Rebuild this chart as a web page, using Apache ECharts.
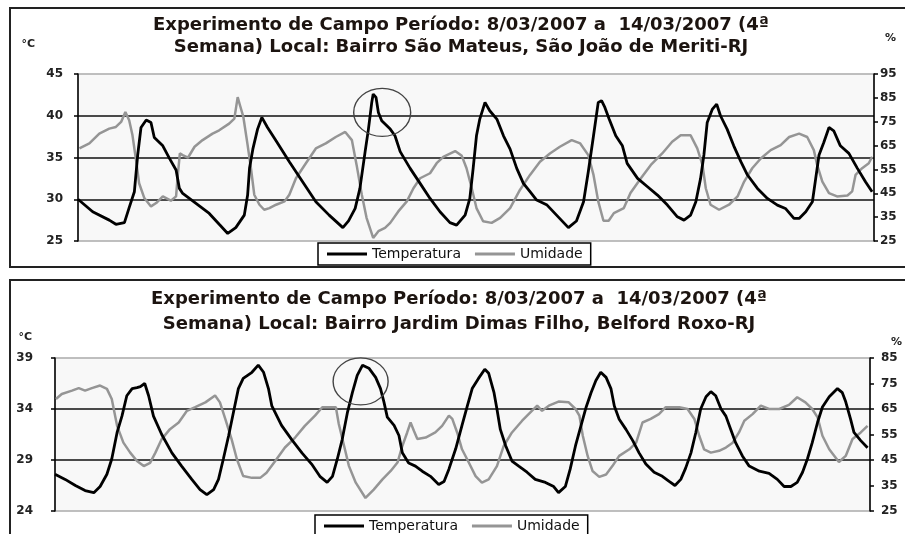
<!DOCTYPE html>
<html>
<head>
<meta charset="utf-8">
<script src="https://cdn.jsdelivr.net/npm/echarts@6.0.0/dist/echarts.min.js"></script>
<style>
  html, body { margin: 0; padding: 0; background: #fff; }
  #chart { width: 905px; height: 534px; }
</style>
</head>
<body>
<div id="chart"></div>
<script>
// eixo X: horas desde 8/03/2007 00h (0 - 168)
// São Mateus, São João de Meriti
const topTemp = [
  [0, 30], [3.1, 28.5], [6.6, 27.5], [8.0, 27.0], [9.8, 27.2], [10.8, 29.0], [11.9, 30.9], [12.6, 35.3],
  [13.3, 38.6], [14.4, 39.5], [15.4, 39.2], [16.1, 37.4], [17.9, 36.4], [19.3, 34.9], [20.7, 33.5],
  [21.4, 31.3], [22.1, 30.7], [24.9, 29.5], [27.7, 28.3], [29.8, 27.0], [31.6, 25.9], [33.3, 26.6],
  [35.1, 28.1], [35.8, 30.5], [36.2, 33.7], [36.9, 36.0], [37.9, 38.4], [38.8, 39.8], [40.0, 38.6],
  [41.8, 37.0], [44.6, 34.5], [47.4, 32.1], [50.2, 29.7], [53.0, 28.1], [55.9, 26.6], [57.1, 27.4],
  [58.5, 28.9], [59.5, 31.3], [60.6, 35.7], [61.3, 38.4], [62.0, 41.6], [62.3, 42.6], [62.9, 42.2],
  [63.4, 40.4], [64.1, 39.4], [65.9, 38.4], [66.9, 37.6], [68.0, 35.7], [70.1, 33.7], [72.2, 31.9],
  [74.3, 30.1], [76.4, 28.5], [78.5, 27.2], [79.9, 26.9], [81.7, 28.1], [82.7, 30.1], [83.4, 33.7],
  [84.1, 37.6], [84.8, 39.6], [85.9, 41.6], [86.9, 40.6], [88.4, 39.6], [89.8, 37.6], [91.2, 36.0],
  [92.6, 33.7], [94.0, 31.9], [95.4, 30.9], [96.8, 29.9], [99.0, 29.3], [101.0, 28.1], [103.5, 26.6],
  [105.2, 27.4], [106.7, 29.7], [107.7, 33.3], [108.8, 37.6], [109.8, 41.6], [110.5, 41.8], [111.2, 41.0],
  [112.1, 39.6], [113.5, 37.6], [114.9, 36.4], [115.9, 34.3], [118.1, 32.5], [120.2, 31.5], [122.3, 30.5],
  [124.4, 29.3], [126.5, 27.9], [127.9, 27.5], [129.3, 28.1], [130.4, 29.7], [131.4, 32.5], [132.1, 35.3],
  [132.8, 39.2], [133.9, 40.8], [134.8, 41.4], [135.6, 40.0], [137.0, 38.4], [138.4, 36.4], [139.9, 34.5],
  [141.3, 32.9], [143.4, 31.3], [145.5, 30.1], [147.6, 29.3], [149.3, 28.9], [151.1, 27.7], [152.2, 27.7],
  [153.6, 28.5], [155.0, 29.7], [155.7, 32.5], [156.4, 35.3], [157.4, 36.8], [158.5, 38.6], [159.5, 38.2],
  [160.9, 36.4], [162.7, 35.5], [164.5, 33.7], [166.2, 32.1], [167.6, 30.9]
]
const topHum = [
  [0.3, 63.8], [2.4, 65.9], [4.5, 70.0], [6.6, 72.1], [8.0, 72.8], [9.1, 74.9], [10.0, 79.1], [10.8, 75.6],
  [11.5, 69.3], [12.2, 59.6], [12.9, 49.2], [14.0, 43.0], [15.4, 39.5], [16.5, 40.9], [17.9, 43.7],
  [19.6, 41.9], [20.7, 43.7], [21.0, 51.3], [21.5, 61.7], [22.1, 61.0], [23.2, 59.9], [24.6, 64.5],
  [26.3, 67.3], [28.4, 70.0], [29.8, 71.4], [31.9, 74.2], [33.0, 76.3], [33.7, 85.3], [34.2, 81.8],
  [34.9, 77.0], [35.8, 65.2], [36.5, 55.5], [37.2, 44.4], [38.3, 40.2], [39.3, 38.1], [40.4, 38.8],
  [41.8, 40.2], [43.6, 41.6], [44.6, 44.4], [46.0, 51.3], [48.1, 57.6], [50.2, 63.8], [52.3, 65.9],
  [54.4, 68.6], [56.4, 70.7], [57.8, 67.3], [58.8, 56.9], [59.9, 44.4], [60.9, 34.7], [62.3, 26.3],
  [63.4, 29.1], [64.8, 30.5], [65.9, 32.6], [67.6, 37.4], [69.4, 41.6], [70.8, 47.1], [72.2, 51.3],
  [74.3, 53.4], [75.7, 57.6], [77.1, 60.3], [79.6, 62.7], [81.0, 60.7], [82.0, 55.5], [83.1, 47.1],
  [84.1, 38.8], [85.5, 33.3], [87.3, 32.6], [89.1, 34.7], [91.2, 38.8], [93.3, 46.5], [95.4, 52.7],
  [97.5, 58.2], [99.6, 61.7], [101.7, 64.5], [104.2, 67.3], [106.0, 65.9], [107.7, 61.0], [108.8, 52.7],
  [109.8, 41.6], [110.9, 33.5], [112.0, 33.5], [113.1, 36.7], [115.2, 38.8], [116.6, 45.1], [118.8, 51.3],
  [120.9, 56.9], [123.3, 61.7], [125.4, 66.6], [127.2, 69.3], [129.3, 69.3], [130.7, 63.8], [131.8, 56.9],
  [132.5, 47.1], [133.5, 40.2], [135.3, 38.1], [137.4, 40.2], [139.2, 43.7], [140.6, 49.9], [142.3, 55.5],
  [144.1, 59.6], [146.2, 63.1], [148.3, 65.2], [150.1, 68.6], [152.2, 70.0], [153.9, 68.6], [155.3, 63.1],
  [156.0, 56.9], [157.1, 49.9], [158.5, 45.1], [160.2, 43.7], [162.4, 44.1], [163.4, 45.8], [164.1, 52.7],
  [165.5, 55.5], [166.9, 57.6], [167.6, 60.3]
]
// Jardim Dimas Filho, Belford Roxo
const bottomTemp = [
  [0, 27.6], [2.1, 27.1], [4.2, 26.5], [6.2, 26.0], [8.0, 25.8], [9.3, 26.4], [10.7, 27.6], [11.7, 29.1],
  [12.8, 31.7], [13.8, 33.3], [14.8, 35.3], [15.9, 36.0], [16.9, 36.1], [17.6, 36.2], [18.5, 36.5],
  [19.3, 35.3], [20.3, 33.3], [22.0, 31.5], [24.1, 29.7], [26.1, 28.4], [28.2, 27.1], [29.9, 26.1],
  [31.3, 25.6], [32.7, 26.1], [33.7, 27.1], [34.7, 29.1], [35.8, 31.4], [36.8, 33.7], [37.8, 36.0],
  [38.8, 37.0], [40.6, 37.6], [41.9, 38.3], [43.0, 37.6], [44.0, 36.0], [44.7, 34.3], [46.7, 32.4],
  [48.8, 31.0], [50.9, 29.7], [52.9, 28.6], [54.6, 27.4], [56.1, 26.8], [57.2, 27.4], [58.2, 29.1],
  [59.2, 31.0], [60.3, 33.7], [61.3, 35.6], [62.3, 37.3], [63.4, 38.3], [64.7, 38.0], [66.1, 37.1],
  [67.1, 36.0], [67.8, 34.7], [68.5, 33.2], [69.9, 32.4], [70.9, 31.4], [71.6, 29.7], [72.9, 28.7],
  [74.3, 28.4], [75.7, 27.9], [77.4, 27.4], [79.1, 26.6], [80.2, 26.9], [81.2, 28.1], [82.6, 30.1],
  [83.9, 32.4], [85.0, 34.3], [86.0, 36.0], [87.3, 37.0], [88.6, 37.9], [89.4, 37.5], [90.5, 35.6],
  [91.1, 34.0], [91.8, 32.0], [92.9, 30.4], [94.2, 28.9], [95.6, 28.4], [97.3, 27.8], [99.0, 27.1],
  [101.1, 26.8], [102.8, 26.4], [103.8, 25.8], [105.2, 26.4], [106.2, 28.1], [107.3, 30.4], [108.8, 33.0],
  [109.5, 34.2], [110.5, 35.6], [111.5, 36.8], [112.5, 37.6], [113.6, 37.1], [114.6, 36.0], [115.3, 34.3],
  [116.3, 33.0], [117.7, 32.0], [119.1, 30.9], [120.4, 29.7], [121.8, 28.6], [123.5, 27.8], [125.2, 27.4],
  [126.6, 26.9], [127.8, 26.5], [129.0, 27.1], [130.0, 28.2], [131.1, 29.7], [132.1, 31.7], [133.1, 34.0],
  [134.2, 35.2], [135.2, 35.7], [136.2, 35.3], [137.3, 34.0], [138.3, 33.3], [139.3, 32.0], [140.3, 30.7],
  [141.7, 29.4], [143.1, 28.4], [145.2, 27.9], [147.2, 27.7], [148.9, 27.1], [150.3, 26.4], [151.7, 26.4],
  [153.0, 26.8], [154.1, 27.8], [155.1, 29.1], [156.1, 30.7], [157.2, 32.7], [158.2, 34.2], [159.6, 35.2],
  [161.3, 36.0], [162.3, 35.6], [163.0, 34.7], [164.0, 33.0], [164.7, 31.7], [166.1, 30.9], [167.5, 30.2]
]
const bottomHum = [
  [0.2, 68.9], [1.4, 70.9], [3.5, 72.2], [4.9, 73.2], [6.2, 72.2], [7.6, 73.2], [9.3, 74.2], [10.7, 72.9],
  [11.7, 68.9], [12.8, 58.4], [14.1, 51.8], [15.5, 47.9], [16.9, 44.6], [18.3, 42.6], [19.6, 43.9],
  [20.7, 47.9], [22.0, 53.2], [23.7, 57.1], [25.5, 59.7], [27.2, 64.3], [28.9, 65.7], [31.0, 67.6],
  [33.0, 70.3], [34.0, 67.6], [35.1, 61.1], [36.4, 53.2], [37.5, 45.3], [38.8, 38.7], [40.6, 38.0],
  [42.3, 38.0], [43.6, 40.0], [45.4, 44.6], [47.4, 49.9], [49.5, 53.8], [51.5, 58.4], [53.6, 62.4],
  [55.1, 65.7], [57.9, 65.7], [58.5, 59.1], [59.6, 50.5], [60.6, 42.6], [62.0, 36.1], [64.0, 30.1],
  [65.7, 33.4], [67.5, 37.4], [69.2, 40.7], [70.6, 44.0], [71.6, 50.5], [72.6, 55.8], [73.3, 59.7],
  [74.0, 56.4], [74.7, 53.2], [76.4, 53.8], [78.4, 55.8], [79.8, 58.4], [81.2, 62.4], [81.9, 61.1],
  [82.9, 55.8], [83.9, 49.2], [85.3, 44.0], [86.7, 38.7], [88.0, 36.1], [89.4, 37.4], [91.1, 42.6],
  [92.5, 50.5], [94.2, 55.8], [96.3, 60.4], [98.3, 64.3], [99.4, 66.3], [100.4, 64.3], [101.8, 66.3],
  [103.8, 67.9], [105.9, 67.6], [107.3, 65.0], [108.1, 62.4], [108.8, 54.5], [109.8, 46.6], [110.8, 40.7],
  [112.2, 38.4], [113.6, 39.3], [114.9, 42.6], [116.3, 46.6], [118.4, 49.2], [119.8, 51.8], [121.1, 59.7],
  [122.8, 61.1], [124.5, 63.0], [125.9, 65.7], [128.7, 65.7], [130.4, 65.0], [131.8, 61.1], [132.8, 54.5],
  [133.8, 49.2], [135.2, 47.9], [136.9, 48.6], [138.3, 49.9], [139.7, 51.8], [141.0, 55.8], [142.1, 60.4],
  [143.8, 63.0], [145.5, 66.3], [147.2, 65.0], [149.3, 65.0], [151.3, 66.6], [153.0, 69.6], [154.7, 67.6],
  [156.1, 65.0], [157.2, 61.7], [158.2, 54.5], [159.6, 49.2], [161.6, 44.2], [163.0, 46.6], [164.4, 53.2],
  [166.1, 55.8], [167.5, 58.4]
]

// marcas dos eixos
const topTempTicks = [25, 30, 35, 40, 45]
const topHumTicks = [25, 35, 45, 55, 65, 75, 85, 95]
const bottomTempTicks = [24, 29, 34, 39]
const bottomHumTicks = [25, 35, 45, 55, 65, 75, 85]

// pico destacado com o círculo [hora, °C]
const topPeak = [64.2, 40.4]
const bottomPeak = [63.0, 36.7]

const topTitle = ['Experimento de Campo Período: 8/03/2007 a  14/03/2007 (4ª',
  'Semana) Local: Bairro São Mateus, São João de Meriti-RJ']
const bottomTitle = ['Experimento de Campo Período: 8/03/2007 a  14/03/2007 (4ª',
  'Semana) Local: Bairro Jardim Dimas Filho, Belford Roxo-RJ']

const FONT = 'DejaVu Sans'
const labelStyle = { color: '#222', fontFamily: FONT, fontWeight: 'bold', fontSize: 12 }

function valueAxis (gridIndex, ticks, side, opts) {
  return {
    type: 'value',
    gridIndex: gridIndex,
    position: side,
    min: ticks[0],
    max: ticks[ticks.length - 1],
    name: opts.name,
    nameLocation: 'end',
    nameGap: opts.nameGap,
    nameTextStyle: Object.assign({}, labelStyle, {
      fontSize: 11,
      align: side === 'left' ? 'right' : 'left',
      verticalAlign: 'middle',
      padding: side === 'left' ? [0, opts.namePad, 0, 0] : [0, 0, 0, opts.namePad]
    }),
    axisLine: { show: true, lineStyle: { color: '#000', width: 1.5 } },
    axisTick: { show: true, length: 4, customValues: ticks, lineStyle: { color: '#000', width: 1.5 } },
    axisLabel: Object.assign({ customValues: ticks, margin: opts.margin }, labelStyle),
    splitLine: {
      show: !!opts.split,
      showMinLine: false,
      showMaxLine: false,
      lineStyle: { color: '#111', width: 1.5 }
    }
  }
}

function timeAxis (gridIndex) {
  return { type: 'value', gridIndex: gridIndex, min: 0, max: 168, show: false }
}

function lineSeries (name, axisIndex, data, color, width, z) {
  return {
    name: name,
    type: 'line',
    xAxisIndex: axisIndex[0],
    yAxisIndex: axisIndex[1],
    data: data,
    showSymbol: false,
    z: z,
    lineStyle: { color: color, width: width },
    itemStyle: { color: color }
  }
}

function peakCircle (coord, size) {
  return {
    silent: true,
    symbol: 'circle',
    symbolSize: size,
    label: { show: false },
    itemStyle: { color: 'rgba(0,0,0,0)', borderColor: '#444', borderWidth: 1.3 },
    data: [{ coord: coord }]
  }
}

function legendBox (left, top) {
  return {
    left: left,
    top: top,
    orient: 'horizontal',
    data: ['Temperatura', 'Umidade'],
    icon: 'rect',
    itemWidth: 40,
    itemHeight: 3,
    itemGap: 14,
    padding: [4, 8, 4, 9],
    borderColor: '#000',
    borderWidth: 1.5,
    backgroundColor: '#fff',
    selectedMode: false,
    textStyle: { color: '#111', fontFamily: FONT, fontSize: 14 }
  }
}

const titleStyle = { color: '#1c1410', fontFamily: FONT, fontWeight: 'bold', fontSize: 18 }

const tempTop = lineSeries('Temperatura', [0, 0], topTemp, '#000', 2.8, 4)
tempTop.markPoint = peakCircle(topPeak, [57, 48])
const tempBottom = lineSeries('Temperatura', [1, 2], bottomTemp, '#000', 2.8, 4)
tempBottom.markPoint = peakCircle(bottomPeak, [55, 47])

const option = {
  backgroundColor: '#fff',
  animation: false,
  title: [
    {
      text: topTitle.join('\n'), left: 461, top: 14, textAlign: 'center', padding: 0,
      textStyle: Object.assign({ lineHeight: 22 }, titleStyle)
    },
    {
      text: bottomTitle.join('\n'), left: 459, top: 287, textAlign: 'center', padding: 0,
      textStyle: Object.assign({ lineHeight: 25 }, titleStyle)
    }
  ],
  legend: [legendBox(318, 243), legendBox(315, 515)],
  grid: [
    { left: 78, top: 74, width: 796, height: 167, show: true, backgroundColor: '#f8f8f8', borderColor: '#aaa', borderWidth: 1.5 },
    { left: 55, top: 358, width: 816, height: 153, show: true, backgroundColor: '#f8f8f8', borderColor: '#aaa', borderWidth: 1.5 }
  ],
  xAxis: [timeAxis(0), timeAxis(1)],
  yAxis: [
    valueAxis(0, topTempTicks, 'left', { name: '°C', nameGap: 30, namePad: 43, margin: 15, split: true }),
    valueAxis(0, topHumTicks, 'right', { name: '%', nameGap: 36, namePad: 11, margin: 6 }),
    valueAxis(1, bottomTempTicks, 'left', { name: '°C', nameGap: 21, namePad: 23, margin: 22, split: true }),
    valueAxis(1, bottomHumTicks, 'right', { name: '%', nameGap: 16, namePad: 21, margin: 11 })
  ],
  // molduras dos dois gráficos
  graphic: [
    { type: 'rect', silent: true, shape: { x: 10, y: 8, width: 900, height: 259 }, style: { fill: 'none', stroke: '#222', lineWidth: 2 } },
    { type: 'rect', silent: true, shape: { x: 10, y: 280, width: 900, height: 262 }, style: { fill: 'none', stroke: '#222', lineWidth: 2 } }
  ],
  series: [
    tempTop,
    lineSeries('Umidade', [0, 1], topHum, '#959595', 2.5, 3),
    tempBottom,
    lineSeries('Umidade', [1, 3], bottomHum, '#959595', 2.5, 3)
  ]
}

const chart = echarts.init(document.getElementById('chart'))
chart.setOption(option)
</script>
</body>
</html>
